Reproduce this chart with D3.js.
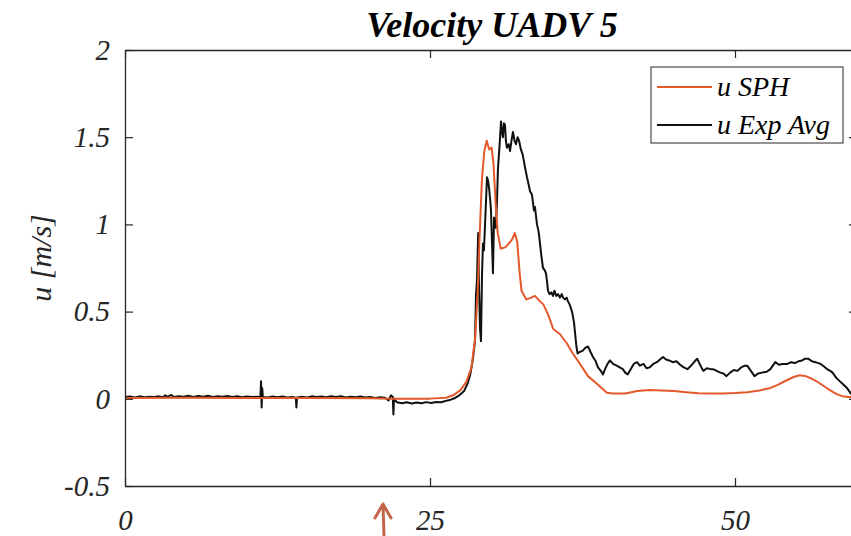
<!DOCTYPE html>
<html>
<head>
<meta charset="utf-8">
<script src="https://cdn.jsdelivr.net/npm/d3@7"></script>
<style>
  html, body { margin: 0; padding: 0; background: #fff; }
  svg { display: block; }
</style>
</head>
<body>
<svg id="chart" width="851" height="536"></svg>
<script>
// ---------------- data ----------------
const chartTitle = "Velocity UADV 5";
const yLabel = "u [m/s]";
const seriesNames = ["u SPH", "u Exp Avg"];
const xTicks = [0, 25, 50];
const yTicks = [-0.5, 0, 0.5, 1, 1.5, 2];
const yTickLabels = ["-0.5", "0", "0.5", "1", "1.5", "2"];

const sphTime = [0, 5, 10, 15, 20, 22, 25, 26.3, 26.9, 27.5, 28.0, 28.4, 28.7, 28.9, 29.05, 29.25, 29.45, 29.65, 29.85, 30.05,
  30.2, 30.4, 30.55, 30.8, 31.2, 31.7, 31.95, 32.15, 32.35, 32.5, 32.9, 33.3, 33.6, 34.0, 34.3, 34.7, 35.1, 35.66, 36.2, 36.7,
  37.3, 37.95, 38.7, 39.5, 40.0, 41.0, 41.5, 42.0, 43.0, 44.0, 45.0, 46.0, 47.0, 48.0, 49.0, 50.0, 51.0, 52.0, 52.8, 53.5,
  54.2, 54.8, 55.3, 55.8, 56.3, 56.8, 57.3, 57.8, 58.3, 58.8, 59.3, 60.0];
const sphU = [0.005, 0.006, 0.005, 0.004, 0.003, 0.001, 0.001, 0.006, 0.02, 0.05, 0.10, 0.18, 0.35, 0.60, 0.90, 1.25, 1.42, 1.48, 1.43, 1.44,
  1.35, 1.10, 0.95, 0.86, 0.87, 0.91, 0.95, 0.90, 0.72, 0.62, 0.57, 0.58, 0.59, 0.56, 0.54, 0.48, 0.40, 0.37, 0.32, 0.26,
  0.20, 0.13, 0.085, 0.035, 0.03, 0.03, 0.038, 0.045, 0.05, 0.048, 0.045, 0.038, 0.032, 0.03, 0.03, 0.033, 0.038, 0.048, 0.06, 0.08,
  0.105, 0.125, 0.135, 0.13, 0.115, 0.095, 0.072, 0.048, 0.028, 0.015, 0.01, 0.01];

const expTime = [0.0, 0.4, 0.8, 1.2, 1.6, 2.0, 2.4, 2.8, 3.1, 3.3, 3.5, 3.8, 4.0, 4.4, 4.8, 5.2, 5.6, 6.0, 6.4, 6.8,
  7.2, 7.6, 8.0, 8.4, 8.8, 9.2, 9.6, 10.0, 10.4, 10.8, 11.1, 11.15, 11.2, 11.25, 11.3, 11.7, 12.1, 12.5, 12.9, 13.3,
  13.7, 14.0, 14.05, 14.1, 14.5, 14.9, 15.3, 15.7, 16.1, 16.5, 16.9, 17.3, 17.7, 18.1, 18.5, 18.9, 19.3, 19.7, 20.1, 20.5,
  20.9, 21.3, 21.6, 21.8, 21.95, 22.0, 22.05, 22.3, 22.7, 23.1, 23.5, 23.9, 24.3, 24.7, 25.1, 25.5, 25.9, 26.3, 26.7, 27.0,
  27.4, 27.8, 28.1, 28.3, 28.5, 28.69, 28.77, 28.85, 28.95, 29.0, 29.1, 29.18, 29.26, 29.34, 29.42, 29.5, 29.6, 29.67, 29.76, 29.84,
  29.92, 30.0, 30.08, 30.16, 30.25, 30.33, 30.4, 30.5, 30.57, 30.7, 30.82, 30.9, 30.98, 31.06, 31.15, 31.22, 31.3, 31.45, 31.56, 31.68,
  31.8, 31.93, 32.05, 32.18, 32.3, 32.45, 32.6, 32.78, 32.95, 33.08, 33.2, 33.36, 33.52, 33.6, 33.77, 33.9, 34.0, 34.13, 34.26, 34.38,
  34.5, 34.58, 34.67, 34.8, 34.95, 35.08, 35.2, 35.35, 35.5, 35.65, 35.8, 35.9, 36.05, 36.2, 36.3, 36.45, 36.64, 36.8, 36.9, 37.0,
  37.1, 37.3, 37.5, 37.7, 37.95, 38.15, 38.36, 38.55, 38.77, 39.0, 39.18, 39.35, 39.55, 39.75, 40.0, 40.3, 40.55, 40.8, 41.0, 41.2,
  41.45, 41.7, 41.97, 42.2, 42.5, 42.75, 43.0, 43.3, 43.6, 43.85, 44.1, 44.35, 44.6, 44.9, 45.2, 45.5, 45.8, 46.1, 46.4, 46.7,
  46.9, 47.1, 47.4, 47.7, 48.0, 48.2, 48.5, 48.8, 49.05, 49.3, 49.6, 49.9, 50.2, 50.5, 50.8, 51.0, 51.3, 51.6, 51.9, 52.2,
  52.6, 52.9, 53.1, 53.3, 53.6, 53.9, 54.3, 54.6, 54.9, 55.2, 55.5, 55.75, 56.0, 56.3, 56.6, 57.0, 57.3, 57.55, 57.8, 58.0,
  58.3, 58.6, 58.9, 59.2, 59.5, 59.8];
const expU = [0.010, 0.013, 0.008, 0.014, 0.009, 0.012, 0.010, 0.014, 0.009, 0.020, 0.011, 0.022, 0.010, 0.015, 0.012, 0.018, 0.010, 0.016, 0.012, 0.017,
  0.011, 0.015, 0.012, 0.016, 0.010, 0.014, 0.009, 0.013, 0.010, 0.012, 0.010, 0.100, -0.050, 0.060, 0.010, 0.008, 0.013, 0.009, 0.013, 0.007,
  0.011, 0.006, -0.050, 0.008, 0.012, 0.008, 0.014, 0.010, 0.013, 0.009, 0.014, 0.010, 0.015, 0.008, 0.012, 0.009, 0.013, 0.008, 0.011, 0.005,
  0.009, 0.006, -0.010, 0.020, 0.010, -0.090, 0.000, -0.020, -0.026, -0.020, -0.027, -0.021, -0.026, -0.019, -0.024, -0.018, -0.020, -0.012, -0.005, 0.003,
  0.020, 0.045, 0.090, 0.140, 0.220, 0.330, 0.600, 0.680, 0.950, 0.700, 0.400, 0.330, 0.700, 0.890, 0.850, 0.980, 1.150, 1.270, 1.250, 1.210,
  1.150, 1.080, 0.900, 0.720, 1.040, 1.000, 0.980, 1.150, 1.320, 1.450, 1.590, 1.530, 1.500, 1.580, 1.570, 1.480, 1.440, 1.460, 1.420, 1.480,
  1.530, 1.480, 1.460, 1.500, 1.480, 1.430, 1.400, 1.330, 1.270, 1.230, 1.190, 1.170, 1.080, 1.100, 1.000, 0.960, 0.900, 0.820, 0.750, 0.740,
  0.720, 0.680, 0.620, 0.600, 0.610, 0.590, 0.620, 0.590, 0.600, 0.580, 0.600, 0.580, 0.570, 0.580, 0.560, 0.540, 0.500, 0.440, 0.370, 0.300,
  0.260, 0.270, 0.275, 0.290, 0.300, 0.270, 0.240, 0.220, 0.180, 0.160, 0.140, 0.170, 0.200, 0.220, 0.200, 0.190, 0.180, 0.170, 0.150, 0.140,
  0.170, 0.200, 0.210, 0.190, 0.200, 0.175, 0.180, 0.200, 0.210, 0.225, 0.240, 0.225, 0.220, 0.210, 0.215, 0.195, 0.180, 0.170, 0.190, 0.215,
  0.230, 0.200, 0.160, 0.175, 0.170, 0.170, 0.160, 0.150, 0.145, 0.130, 0.150, 0.165, 0.160, 0.180, 0.190, 0.190, 0.160, 0.130, 0.145, 0.150,
  0.155, 0.170, 0.190, 0.210, 0.195, 0.200, 0.200, 0.210, 0.205, 0.215, 0.220, 0.230, 0.230, 0.215, 0.210, 0.200, 0.185, 0.170, 0.160, 0.150,
  0.120, 0.100, 0.080, 0.060, 0.030, 0.020];

// ---------------- layout ----------------
const svg = d3.select("#chart");
const plotLeft = 125, plotRight = 857, plotTop = 50, plotBottom = 486;
const axisColor = "#262626";
const sphColor = "#e5582b";
const expColor = "#111111";
const serifFont = "'Liberation Serif', 'Times New Roman', serif";

const x = d3.scaleLinear().domain([0, 60]).range([plotLeft, plotRight]);
const y = d3.scaleLinear().domain([-0.5, 2]).range([plotBottom, plotTop]);

svg.append("rect").attr("width", 851).attr("height", 536).attr("fill", "#fff");

svg.append("defs").append("clipPath").attr("id", "plotclip")
  .append("rect").attr("x", plotLeft).attr("y", plotTop).attr("width", plotRight - plotLeft).attr("height", plotBottom - plotTop);

// lines
const sphData = sphTime.map((t, i) => [t, sphU[i]]);
const expData = expTime.map((t, i) => [t, expU[i]]);
const line = d3.line().x(d => x(d[0])).y(d => y(d[1]));

const plot = svg.append("g").attr("clip-path", "url(#plotclip)");
plot.append("path").datum(expData).attr("d", line)
  .attr("fill", "none").attr("stroke", expColor).attr("stroke-width", 2).attr("stroke-linejoin", "round");
plot.append("path").datum(sphData).attr("d", line)
  .attr("fill", "none").attr("stroke", sphColor).attr("stroke-width", 2).attr("stroke-linejoin", "round");

// axes (inward ticks, MATLAB style)
const tickLen = 8;
const gx = svg.append("g").attr("transform", `translate(0,${plotBottom})`)
  .call(d3.axisBottom(x).tickValues(xTicks).tickFormat(d3.format("d")).tickSizeInner(-tickLen).tickSizeOuter(0).tickPadding(23));
const gxTop = svg.append("g").attr("transform", `translate(0,${plotTop})`)
  .call(d3.axisTop(x).tickValues(xTicks).tickFormat("").tickSizeInner(-tickLen).tickSizeOuter(0));
const gy = svg.append("g").attr("transform", `translate(${plotLeft},0)`)
  .call(d3.axisLeft(y).tickValues(yTicks).tickFormat((d, i) => yTickLabels[i]).tickSizeInner(-tickLen).tickSizeOuter(0).tickPadding(15));
const gyRight = svg.append("g").attr("transform", `translate(${plotRight},0)`)
  .call(d3.axisRight(y).tickValues(yTicks).tickFormat("").tickSizeInner(-tickLen).tickSizeOuter(0));

[gx, gxTop, gy, gyRight].forEach(g => {
  g.attr("font-family", null).attr("font-size", null);
  g.selectAll(".domain").attr("stroke", axisColor).attr("stroke-width", 1.3);
  g.selectAll(".tick line").attr("stroke", axisColor).attr("stroke-width", 1.2);
  g.selectAll(".tick text")
    .attr("fill", axisColor)
    .style("font-family", serifFont)
    .style("font-style", "italic")
    .style("font-size", "29px");
});

// title
svg.append("text")
  .attr("x", 492).attr("y", 37)
  .attr("text-anchor", "middle")
  .style("font-family", serifFont)
  .style("font-size", "36px").style("font-weight", "bold").style("font-style", "italic")
  .attr("fill", "#000")
  .text(chartTitle);

// y label
svg.append("text")
  .attr("transform", "translate(51,258) rotate(-90)")
  .attr("text-anchor", "middle")
  .style("font-family", serifFont)
  .style("font-size", "30px").style("font-style", "italic")
  .attr("fill", axisColor)
  .text(yLabel);

// legend
const lg = svg.append("g");
lg.append("rect").attr("x", 651).attr("y", 67).attr("width", 192).attr("height", 76)
  .attr("fill", "#fff").attr("stroke", axisColor).attr("stroke-width", 1);
const legendColors = [sphColor, expColor];
seriesNames.forEach((name, i) => {
  const yy = 87 + i * 38;
  lg.append("line").attr("x1", 657).attr("x2", 712).attr("y1", yy).attr("y2", yy)
    .attr("stroke", legendColors[i]).attr("stroke-width", 2);
  lg.append("text").attr("x", 717).attr("y", yy).attr("dy", "0.33em")
    .style("font-family", serifFont)
    .style("font-size", "28px").style("font-style", "italic")
    .attr("fill", "#000").text(name);
});

// annotation arrow below the axis
svg.append("path")
  .attr("d", "M384,536 L383,504 M375,518 L383,504 L391,518")
  .attr("fill", "none").attr("stroke", "#c4654b").attr("stroke-width", 3).attr("stroke-linecap", "round").attr("stroke-linejoin", "round");
</script>
</body>
</html>
